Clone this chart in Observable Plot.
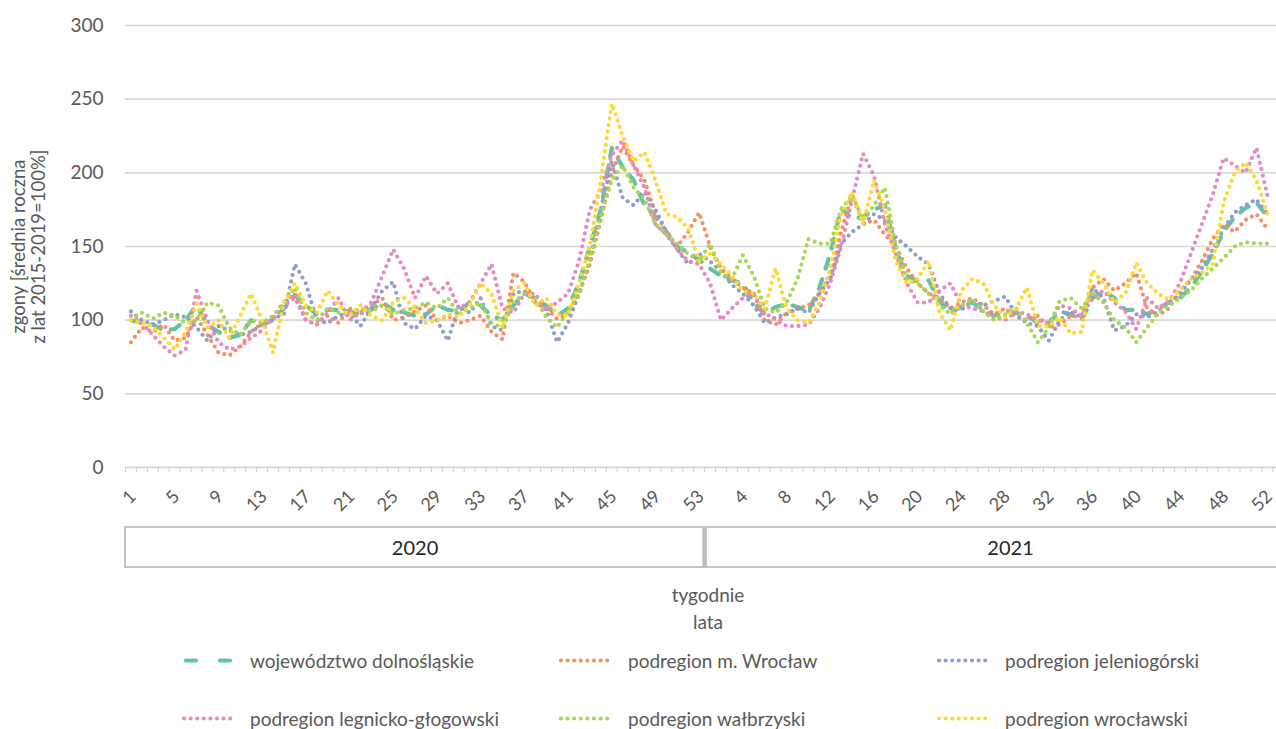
<!DOCTYPE html>
<html><head><meta charset="utf-8">
<script src="https://cdn.jsdelivr.net/npm/d3@7"></script>
<script src="https://cdn.jsdelivr.net/npm/@observablehq/plot@0.6"></script>
<style>
body{margin:0;width:1276px;height:729px;overflow:hidden;background:#fff;font-family:Lato,"Open Sans",sans-serif;}
#wrap{position:relative;width:1276px;height:729px;overflow:hidden;}
#chart{position:absolute;left:0;top:0;width:1320px;}
#chart svg{max-width:none !important;width:1320px !important;height:580px !important;}
.t{position:absolute;color:#595959;font-size:19px;white-space:nowrap;transform:translate(-50%,-50%);}
.lg{position:absolute;display:flex;align-items:center;color:#595959;font-size:19px;white-space:nowrap;transform:translateY(-50%);}
.lg svg{margin-right:13px;}
</style></head><body>
<div id="wrap"><div id="chart"></div>
<div class="t" style="left:708px;top:594px">tygodnie</div>
<div class="t" style="left:708px;top:621px">lata</div>
<div id="legend"></div>
</div>
<script>
// ---- data ----
const weeks2020 = d3.range(1, 54);
const weeks2021 = d3.range(1, 53);
const years = ["2020", "2021"];
const yearWeeks = [53, 52];
const weekLabels = [...weeks2020, ...weeks2021];
const yTicks = [0, 50, 100, 150, 200, 250, 300];
const yTitle = "zgony [średnia roczna\nz lat 2015-2019=100%]";
const seriesNames = ["województwo dolnośląskie", "podregion m. Wrocław", "podregion jeleniogórski",
  "podregion legnicko-głogowski", "podregion wałbrzyski", "podregion wrocławski"];
const seriesColors = ["#66c2a5", "#fc8d62", "#8da0cb", "#e78ac3", "#a6d854", "#ffd92f"];

const woj = [100,98,97,93,94,100,110,97,92,88,90,100,97,100,108,117,110,104,107,107,106,104,107,112,107,105,103,104,110,107,106,112,110,103,100,110,118,115,110,103,108,125,150,175,217,204,195,178,170,160,150,146,141,
  135,130,127,125,112,104,109,111,109,106,122,145,176,169,170,175,178,148,130,127,127,113,105,109,112,107,103,106,105,103,98,98,106,104,100,115,120,115,107,107,104,108,112,115,122,133,145,160,170,176,180,170];
const wroclaw = [85,95,92,97,86,88,102,90,78,76,82,92,98,100,112,118,100,97,103,98,108,104,110,115,100,102,106,110,100,103,98,100,103,92,87,132,126,112,108,101,104,118,138,168,200,218,205,195,172,160,150,160,173,
  150,135,128,122,118,100,97,105,108,110,118,130,160,185,165,168,158,150,135,125,118,115,108,112,115,110,104,108,102,100,103,95,97,103,102,122,128,120,125,132,108,103,108,120,127,140,155,165,160,168,172,162];
const jeleniogorski = [106,100,97,100,104,102,95,86,96,93,90,92,97,101,104,138,125,100,98,103,105,96,108,120,126,98,94,103,100,86,110,105,115,96,93,118,120,112,107,85,98,118,140,175,208,183,178,187,175,160,148,138,145,
  140,133,124,118,110,98,102,104,108,105,118,128,152,160,165,172,168,156,150,143,138,118,108,107,113,110,113,116,104,98,96,86,100,106,102,122,115,93,96,104,102,106,112,117,128,135,148,162,173,178,182,172];
const legnicki = [103,98,90,82,76,80,120,100,85,80,82,88,93,102,110,115,100,97,105,115,100,105,112,130,148,135,115,130,118,125,108,112,125,138,108,105,118,118,107,112,118,140,175,188,212,222,205,190,165,158,148,140,138,
  125,100,108,115,118,105,100,96,96,97,108,125,150,182,213,198,165,145,125,112,112,120,125,110,108,106,102,100,106,104,100,98,110,108,103,115,120,112,106,94,115,108,113,125,145,165,185,210,205,200,217,185];
const walbrzyski = [100,105,101,105,103,98,100,112,110,95,90,100,98,103,112,122,105,100,108,105,104,108,106,110,104,107,108,112,108,115,104,108,112,98,95,112,118,115,102,95,106,118,140,170,195,205,190,182,165,158,152,145,140,
  152,132,128,144,130,108,105,112,128,155,152,152,175,185,168,178,190,150,128,125,118,110,104,110,114,106,100,104,108,98,85,95,113,115,108,118,112,100,95,85,95,105,110,115,120,128,135,142,150,153,152,152];
const wroclawski = [100,98,96,88,80,92,111,95,100,88,103,118,100,78,112,125,110,105,120,110,103,110,103,100,112,115,108,98,100,104,102,110,125,118,95,120,125,110,115,104,103,125,150,195,247,225,208,214,195,172,170,162,140,
  145,138,130,120,118,108,135,108,100,98,112,135,172,187,165,195,175,140,125,128,140,105,93,120,128,125,110,102,108,122,96,96,102,91,92,134,125,112,118,139,125,118,114,120,128,132,138,180,200,207,195,172];

const seriesValues = [woj, wroclaw, jeleniogorski, legnicki, walbrzyski, wroclawski];

// ---- derived tables ----
const data = seriesNames.map((name, s) => seriesValues[s].map((v, i) => ({name, i, v})));
const xMax = 108.5; // category axis continues past the cropped picture edge
let acc = 0;
const yearRows = years.map((y, k) => {
  const start = acc - 0.5; acc += yearWeeks[k];
  const end = k === years.length - 1 ? xMax : acc - 0.5;
  return {year: y, x1: start, x2: end, mid: (start + end) / 2};
});
const yearBoundaries = yearRows.slice(1).map(r => r.x1);
const labelIdx = d3.range(0, weekLabels.length, 4);
const minorTicks = d3.range(-0.5, xMax + 0.01, 1);

const dotted = {strokeWidth: 4.2, strokeDasharray: "0 6.6", strokeLinecap: "round"};
const dashed = {strokeWidth: 4.2, strokeDasharray: "10 11", strokeLinecap: "round"};

const lineMarks = data.map((rows, s) => Plot.line(rows, {
  x: "i", y: "v", stroke: seriesColors[s], ...(s === 0 ? dashed : dotted)
}));

const chart = Plot.plot({
  width: 1320, height: 580,
  marginLeft: 125, marginRight: 4, marginTop: 25, marginBottom: 113,
  style: {fontFamily: "Lato, 'Open Sans', sans-serif", background: "transparent", overflow: "visible", maxWidth: "none"},
  x: {domain: [-0.5, xMax], axis: null},
  y: {domain: [0, 300], axis: null},
  marks: [
    Plot.ruleY(yTicks.filter(d => d > 0), {stroke: "#d9d9d9", strokeWidth: 1.6}),
    Plot.ruleY([0], {stroke: "#d0d0d0", strokeWidth: 1.6}),
    Plot.ruleX(minorTicks, {x: d => d, y1: 0, y2: -3.6, stroke: "#d0d0d0", strokeWidth: 1}),
    Plot.text(yTicks, {x: -0.5, y: d => d, text: d => String(d), textAnchor: "end", dx: -22, fontSize: 19, fill: "#595959"}),
    Plot.text(labelIdx, {x: d => d, y: 0, text: d => String(weekLabels[d]), rotate: -45, textAnchor: "end", dx: 2, dy: 26, fontSize: 18, fill: "#595959"}),
    Plot.text([yTitle], {frameAnchor: "left", textAnchor: "middle", dx: -97, rotate: -90, fontSize: 18.5, lineHeight: 1.1, fill: "#595959"}),
    Plot.rect(yearRows, {x1: "x1", x2: "x2", y1: -40.7, y2: -67.9, fill: "none", stroke: "#c4c4c4", strokeWidth: 2}),
    Plot.ruleX(yearBoundaries, {x: d => d, y1: -40.7, y2: -67.9, stroke: "#bdbdbd", strokeWidth: 4.5}),
    Plot.text(yearRows, {x: "mid", y: -55, text: "year", fontSize: 20, fill: "#262626"}),
    ...lineMarks
  ]
});
document.getElementById("chart").appendChild(chart);

// ---- legend ----
const legendPos = [
  {sx: 181, tx: 250, y: 660}, {sx: 558, tx: 628, y: 660}, {sx: 936, tx: 1005, y: 660},
  {sx: 181, tx: 250, y: 718}, {sx: 558, tx: 628, y: 718}, {sx: 936, tx: 1005, y: 718}
];
const legend = document.getElementById("legend");
seriesNames.forEach((name, s) => {
  const p = legendPos[s];
  const div = document.createElement("div");
  div.className = "lg";
  div.style.left = p.sx + "px";
  div.style.top = p.y + "px";
  const st = s === 0 ? dashed : dotted;
  const w = p.tx - p.sx - 13;
  div.innerHTML = `<svg width="${w}" height="10"><line x1="${s===0?5:3}" x2="${w-3}" y1="5" y2="5" stroke="${seriesColors[s]}" stroke-width="${st.strokeWidth}" stroke-dasharray="${s===0?'10 24':'0 6.6'}" stroke-linecap="round"/></svg><span>${name}</span>`;
  legend.appendChild(div);
});
</script>
</body></html>
